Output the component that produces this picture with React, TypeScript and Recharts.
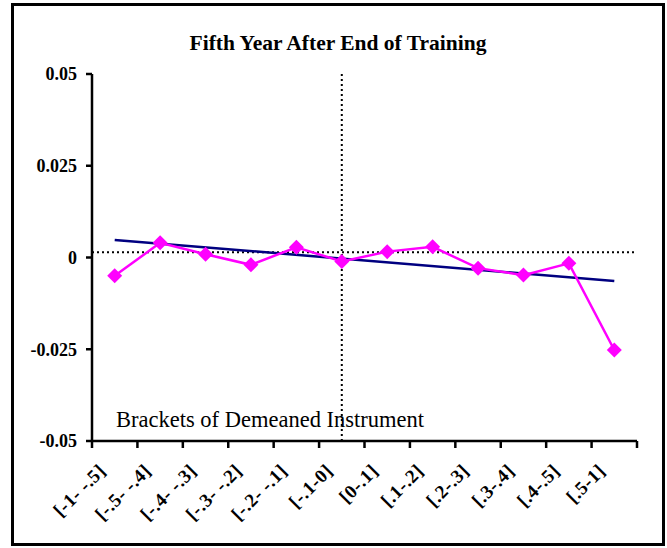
import { LineChart, Line, XAxis, YAxis, ReferenceLine } from 'recharts';

// brackets of the demeaned instrument, left to right
const brackets = ['[-1- -.5]', '[-.5- -.4]', '[-.4- -.3]', '[-.3- -.2]', '[-.2- -.1]', '[-.1-0]', '[0-.1]', '[.1-.2]', '[.2-.3]', '[.3-.4]', '[.4-.5]', '[.5-1]'];
const effects = [-0.005, 0.004, 0.0009, -0.002, 0.0028, -0.0011, 0.0016, 0.0029, -0.0029, -0.0048, -0.0016, -0.0252];
// fitted line: value at first and at last bracket
const trendStart = 0.0048;
const trendEnd = -0.0064;
const yTicks = [-0.05, -0.025, 0, 0.025, 0.05];
const meanLevel = 0.0014;
const middleBracket = '[-.1-0]';

const data = brackets.map((b, i) => ({
    bracket: b,
    effect: effects[i],
    trend: i === 0 ? trendStart : i === brackets.length - 1 ? trendEnd : null,
}));

const serif = '"Liberation Serif", "Times New Roman", serif';

const Diamond = (props: any) => {
    const { cx, cy } = props;
    if (cx == null || cy == null) return null;
    const r = 7.5;
    return <polygon points={`${cx},${cy - r} ${cx + r},${cy} ${cx},${cy + r} ${cx - r},${cy}`} fill="#FF00FF" />;
};

// label at the band centre, tick marks on the band edges (excel style)
const BracketTick = (props: any) => {
    const { x, y, payload, width, visibleTicksCount, index } = props;
    const half = width / visibleTicksCount / 2;
    return (
        <g>
            <line x1={x - half} y1={y} x2={x - half} y2={y + 7} stroke="#000" strokeWidth={2.5} />
            {index === visibleTicksCount - 1 && (
                <line x1={x + half} y1={y} x2={x + half} y2={y + 7} stroke="#000" strokeWidth={2.5} />
            )}
            <g transform={`translate(${x - 8},${y + 31}) rotate(-45)`}>
                <text x={0} y={0} textAnchor="end" fontFamily={serif} fontWeight="bold" fontSize={19} letterSpacing={0.5} fill="#000">
                    {payload.value}
                </text>
            </g>
        </g>
    );
};

export default function App() {
    return (
        <div style={{ position: 'absolute', left: 0, top: 0, width: 667, height: 548, background: '#fff' }}>
            <div style={{ position: 'absolute', left: 11, top: 3, width: 654, height: 543, border: '3px solid #000', boxSizing: 'border-box' }} />
            <LineChart width={667} height={548} data={data} margin={{ top: 74, right: 30, left: 32, bottom: 17 }}>
                <XAxis
                    dataKey="bracket"
                    scale="band"
                    interval={0}
                    height={90}
                    tickSize={0}
                    tickMargin={0}
                    axisLine={{ stroke: '#000', strokeWidth: 2.5 }}
                    tickLine={false}
                    tick={<BracketTick />}
                />
                <YAxis
                    width={60}
                    domain={[-0.05, 0.05]}
                    ticks={yTicks}
                    tickSize={6}
                    tickMargin={9}
                    axisLine={{ stroke: '#000', strokeWidth: 2.5 }}
                    tickLine={{ stroke: '#000', strokeWidth: 2.5 }}
                    tick={{ fontFamily: serif, fontWeight: 'bold', fontSize: 18, fill: '#000' }}
                />
                <ReferenceLine y={meanLevel} stroke="#000" strokeWidth={2} strokeDasharray="2 3" />
                <ReferenceLine x={middleBracket} stroke="#000" strokeWidth={2} strokeDasharray="2 3" />
                <Line dataKey="trend" stroke="#000080" strokeWidth={2.5} dot={false} activeDot={false} connectNulls isAnimationActive={false} />
                <Line dataKey="effect" stroke="#FF00FF" strokeWidth={2.5} dot={<Diamond />} activeDot={false} isAnimationActive={false} />
            </LineChart>
            <svg width={667} height={548} style={{ position: 'absolute', left: 0, top: 0, pointerEvents: 'none' }}>
                <text x={338} y={50} textAnchor="middle" fontFamily={serif} fontWeight="bold" fontSize={21.5} fill="#000">
                    Fifth Year After End of Training
                </text>
                <text x={116} y={427} fontFamily={serif} fontSize={22.5} fill="#000">
                    Brackets of Demeaned Instrument
                </text>
            </svg>
        </div>
    );
}
